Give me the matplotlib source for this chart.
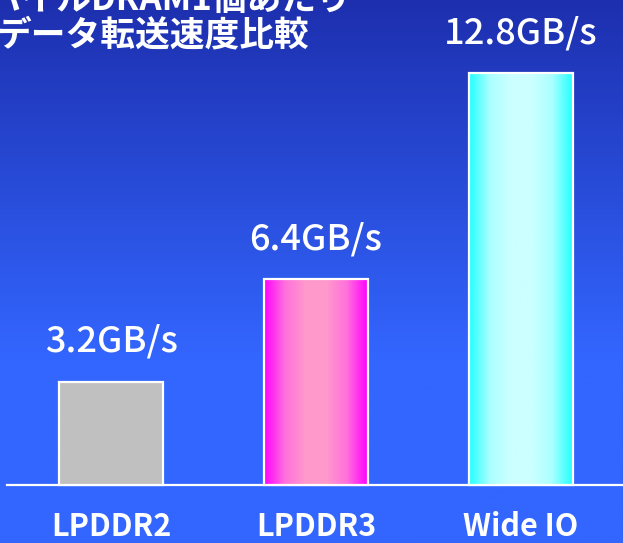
import numpy as np
import matplotlib
matplotlib.use("Agg")
import matplotlib.pyplot as plt
from matplotlib.colors import LinearSegmentedColormap

plt.rcParams['font.family'] = ['Noto Sans CJK JP', 'DejaVu Sans']

categories = ["LPDDR2", "LPDDR3", "Wide IO"]
values = [3.2, 6.4, 12.8]
value_labels = ["3.2GB/s", "6.4GB/s", "12.8GB/s"]
title_lines = ["モバイルDRAM1個あたり", "データ転送速度比較"]

W, H = 623, 543
fig = plt.figure(figsize=(W / 100, H / 100), dpi=100)
ax = fig.add_axes([0, 0, 1, 1])
ax.set_axis_off()

# pixel scale: 32.19 px per GB/s, baseline at y=485, bar spacing 205 px
ppu = 412 / 12.8
ax.set_ylim(-(H - 485) / ppu, 485 / ppu)
ax.set_xlim(-111 / 205, (W - 111) / 205)
x0, x1 = ax.get_xlim()
y0, y1 = ax.get_ylim()

# background gradient (dark blue top -> bright blue lower part)
bg = LinearSegmentedColormap.from_list(
    "bg", [(0.0, "#1d2fae"), (0.66, "#3366ff"), (1.0, "#3366ff")])
grad = np.linspace(0, 1, 256).reshape(-1, 1)
ax.imshow(grad, cmap=bg, extent=[x0, x1, y0, y1], origin='upper',
          aspect='auto', zorder=0)

# baseline
ax.axhline(0, xmin=7 / W, xmax=1, color='white', lw=1.6, zorder=1)

x = np.arange(len(categories))
bars = ax.bar(x, values, width=104 / 205, color=['#c0c0c0', 'none', 'none'],
              edgecolor='white', linewidth=1.6, zorder=3)

fills = [None,
         LinearSegmentedColormap.from_list(
             "mag", ["#ff00ff", "#ff70dc", "#ff99cc", "#ff99cc", "#ff70dc", "#ff00ff"]),
         LinearSegmentedColormap.from_list(
             "cyan", ["#22ffff", "#aaffff", "#ccffff", "#ccffff", "#aaffff", "#22ffff"])]
row = np.linspace(0, 1, 256).reshape(1, -1)
for b, cm in zip(bars, fills):
    if cm is None:
        continue
    img = ax.imshow(row, cmap=cm, aspect='auto', zorder=2,
                    extent=[b.get_x(), b.get_x() + b.get_width(), 0, b.get_height()])
    img.set_clip_path(b)

# value labels
for xi, v, lab in zip(x, values, value_labels):
    ax.annotate(lab, (xi, v), xytext=(0, 30 * 0.72), textcoords='offset points',
                ha='center', va='baseline', color='white', fontsize=26,
                fontweight='medium')

# category labels
for xi, c in zip(x, categories):
    ax.annotate(c, (xi, 0), xytext=(0, -51 * 0.72), textcoords='offset points',
                ha='center', va='baseline', color='white', fontsize=22,
                fontweight='bold')

# title (partially cut at the top-left)
fig.text(152 / W, 1 + 1 / H, title_lines[0], ha='center', va='center',
         color='white', fontsize=25, fontweight='bold')
fig.text(153 / W, 1 - 35 / H, title_lines[1], ha='center', va='center',
         color='white', fontsize=25, fontweight='bold')

fig.savefig("out.png", dpi=100)
